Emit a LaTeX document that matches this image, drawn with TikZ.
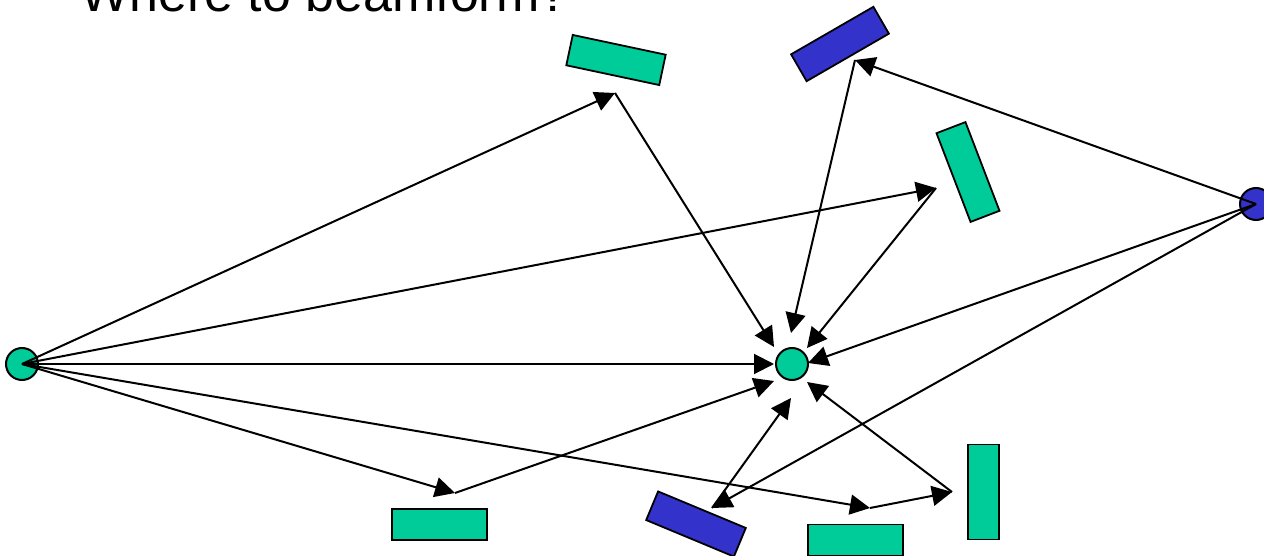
\documentclass[tikz,border=0pt]{standalone}
\usepackage{fontspec}
\setmainfont{Liberation Sans}
\usetikzlibrary{arrows.meta}
\definecolor{tgreen}{RGB}{0,204,153}
\definecolor{tblue}{RGB}{51,51,204}
\begin{document}
\begin{tikzpicture}[x=1pt,y=-1pt,
  dev/.style={circle,draw=black,line width=2pt,minimum size=32pt,inner sep=0pt,outer sep=0pt},
  panel/.style={rectangle,draw=black,line width=1.8pt,minimum width=95pt,minimum height=31pt,inner sep=0pt,outer sep=0pt},
  vpanel/.style={panel,minimum width=31pt,minimum height=95pt},
  ray/.style={line width=2pt,-{Triangle[length=20pt,width=20pt]}},
]
\useasboundingbox (0,0) rectangle (1264,556);
\clip (0,0) rectangle (1264,556);
\node[anchor=base west,inner sep=0pt,font=\fontsize{52}{60}\selectfont] (title) at (80,12) {Where to beamform?};
% devices
\node[dev,fill=tgreen] (l) at (22,364) {};
\node[dev,fill=tgreen] (c) at (792,364) {};
\node[dev,fill=tblue] (r) at (1256,204) {};
% reflecting panels
\node[panel,fill=tgreen,rotate=-12] (g1) at (616,60) {};
\node[panel,fill=tblue,rotate=30] (b1) at (840,44) {};
\node[vpanel,fill=tgreen,rotate=21] (g2) at (968,172) {};
\node[panel,fill=tgreen] (g3) at (439.5,524.5) {};
\node[panel,fill=tblue,rotate=-22.6] (b2) at (696,524) {};
\node[panel,fill=tgreen] (g4) at (855.5,540) {};
\node[vpanel,fill=tgreen] (g5) at (983.5,492) {};
% reflection points
\coordinate (p1) at (615,93);
\coordinate (p2) at (855,60);
\coordinate (p3) at (936,188);
\coordinate (p4) at (455,493);
\coordinate (p5) at (870,508);
\coordinate (p6) at (952,492);
\coordinate (p7) at (712,508);
% arrival points round the receiver
\coordinate (t1) at ([shift={(-18,-17)}]c.center);
\coordinate (t2) at ([shift={(-1,-31)}]c.center);
\coordinate (t3) at ([shift={(15,-16)}]c.center);
\coordinate (tr) at ([shift={(16,-1)}]c.center);
\coordinate (tl) at ([shift={(-18,0)}]c.center);
\coordinate (t4) at ([shift={(-18,17)}]c.center);
\coordinate (t7) at ([shift={(-1,34)}]c.center);
\coordinate (t6) at ([shift={(15,18)}]c.center);
% rays from the left transmitter
\draw[ray] (l.center) -- (p1);
\draw[ray] (p1) -- (t1);
\draw[ray] (l.center) -- (p3);
\draw[ray] (p3) -- (t3);
\draw[ray] (l.center) -- (tl);
\draw[ray] (l.center) -- (p4);
\draw[ray] (p4) -- (t4);
\draw[ray] (l.center) -- (p5);
\draw[ray] (p5) -- (p6);
\draw[ray] (p6) -- (t6);
% rays from the right transmitter
\draw[ray] (r.center) -- (p2);
\draw[ray] (p2) -- (t2);
\draw[ray] (r.center) -- (tr);
\draw[ray] (r.center) -- (p7);
\draw[ray] (p7) -- (t7);
\end{tikzpicture}
\end{document}
